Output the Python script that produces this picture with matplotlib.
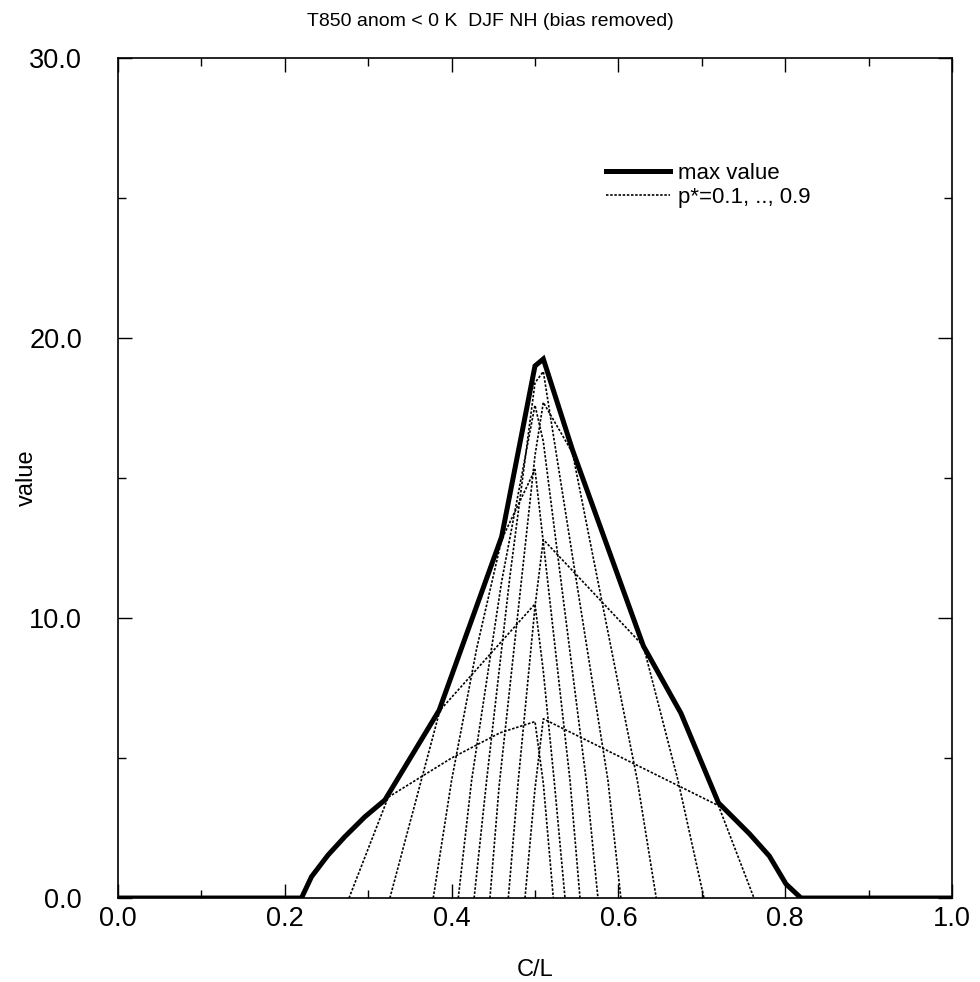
import numpy as np
import matplotlib.pyplot as plt
from matplotlib.ticker import MultipleLocator, FormatStrFormatter

plt.rcParams['font.family'] = ['Liberation Sans Narrow', 'Liberation Sans', 'DejaVu Sans']

### Data (C/L, value)

# envelope: maximum value over all p*
cl_max = [0.0, 0.22, 0.232, 0.252, 0.272, 0.296, 0.32, 0.385, 0.46, 0.50, 0.51,
          0.545, 0.63, 0.675, 0.72, 0.757, 0.781, 0.801, 0.819, 1.0]
val_max = [0.0, 0.0, 0.76, 1.54, 2.19, 2.9, 3.5, 6.7, 12.9, 19.0, 19.25,
           16.0, 9.0, 6.6, 3.4, 2.3, 1.5, 0.5, 0.0, 0.0]

# individual probability thresholds p*
cl_p1 = [0.277, 0.324, 0.40, 0.458, 0.50, 0.51, 0.522]
val_p1 = [0.0, 3.6, 5.0, 5.9, 6.3, 4.1, 0.0]

cl_p2 = [0.326, 0.386, 0.458, 0.50, 0.51, 0.523, 0.536]
val_p2 = [0.0, 6.7, 9.1, 10.5, 8.1, 4.2, 0.0]

cl_p3 = [0.378, 0.40, 0.43, 0.46, 0.50, 0.51, 0.542, 0.554]
val_p3 = [0.0, 4.2, 8.9, 12.8, 15.3, 12.7, 4.2, 0.0]

cl_p4 = [0.408, 0.424, 0.46, 0.50, 0.51, 0.5615, 0.5755]
val_p4 = [0.0, 4.2, 11.3, 17.6, 16.3, 4.2, 0.0]

cl_p5 = [0.427, 0.442, 0.47, 0.50, 0.51, 0.545, 0.5875, 0.603]
val_p5 = [0.0, 4.2, 11.5, 18.4, 18.8, 12.2, 4.2, 0.0]

cl_p6 = [0.446, 0.457, 0.50, 0.51, 0.545, 0.6227, 0.6454]
val_p6 = [0.0, 4.0, 15.8, 17.7, 15.9, 4.2, 0.0]

cl_p7 = [0.468, 0.48, 0.50, 0.51, 0.63, 0.6715, 0.7026]
val_p7 = [0.0, 4.2, 10.4, 12.8, 9.0, 4.2, 0.0]

cl_p8 = [0.488, 0.50, 0.51, 0.72, 0.7626]
val_p8 = [0.0, 3.9, 6.4, 3.3, 0.0]

p_curves = [(cl_p1, val_p1), (cl_p2, val_p2), (cl_p3, val_p3), (cl_p4, val_p4),
            (cl_p5, val_p5), (cl_p6, val_p6), (cl_p7, val_p7), (cl_p8, val_p8)]

title = "T850 anom < 0 K  DJF NH (bias removed)"

### Draw diagram

fig = plt.figure(figsize=(9.8, 9.82), dpi=100)
ax = fig.add_axes([0.1204, 0.0855, 0.851, 0.8555])

dotted = (0, (1.5, 1.0))
for i, (cl, val) in enumerate(p_curves):
    ax.plot(cl, val, color="black", lw=1.2, linestyle=dotted,
            label="p*=0.1, .., 0.9" if i == 0 else None)
ax.plot(cl_max, val_max, color="black", lw=3.6, solid_joinstyle="miter",
        label="max value", zorder=5)

ax.set_xlim(0, 1)
ax.set_ylim(0, 30)
ax.xaxis.set_major_locator(MultipleLocator(0.2))
ax.xaxis.set_minor_locator(MultipleLocator(0.1))
ax.yaxis.set_major_locator(MultipleLocator(10))
ax.yaxis.set_minor_locator(MultipleLocator(5))
ax.xaxis.set_major_formatter(FormatStrFormatter("%.1f"))
ax.yaxis.set_major_formatter(FormatStrFormatter("%.1f"))
ax.tick_params(which="both", direction="in", top=True, right=True, width=1.0)
ax.tick_params(which="major", length=10, labelsize=19.5)
ax.tick_params(which="minor", length=6)
ax.tick_params(axis="y", pad=26)
ax.tick_params(axis="x", pad=6)
for spine in ax.spines.values():
    spine.set_linewidth(1.2)

ax.set_xlabel("C/L", fontsize=17)
ax.xaxis.set_label_coords(0.5, -0.073)
ax.set_ylabel("value", fontsize=17)
ax.yaxis.set_label_coords(-0.096, 0.5)
ax.set_title(title, fontsize=14, pad=23, x=0.446)

handles, labels = ax.get_legend_handles_labels()
ax.legend(handles[::-1], labels[::-1], loc="upper left", bbox_to_anchor=(0.575, 0.886),
          frameon=False, fontsize=16, handlelength=2.85, handletextpad=0.36,
          labelspacing=0.15, borderaxespad=0)

fig.savefig("out.png", dpi=100)
